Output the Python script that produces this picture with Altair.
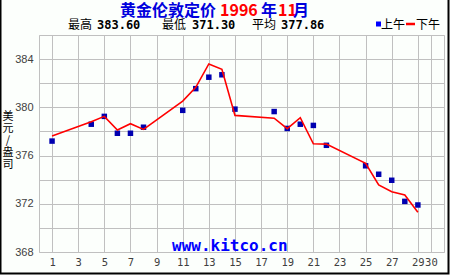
import altair as alt
import pandas as pd

days = [1, 4, 5, 6, 7, 8, 11, 12, 13, 14, 15, 18, 19, 20, 21, 22, 25, 26, 27, 28, 29]
am = [377.20, 378.60, 379.25, 377.85, 377.85, 378.35, 379.75, 381.55, 382.50, 382.70,
      379.85, 379.65, 378.25, 378.60, 378.50, 376.85, 375.15, 374.45, 373.95, 372.20, 371.90]
pm = [377.62, 378.80, 379.25, 378.12, 378.64, 378.17, 380.52, 381.66, 383.60, 383.15,
      379.33, 379.10, 378.23, 379.14, 376.98, 376.95, 375.35, 373.56, 373.00, 372.73, 371.30]
x_ticks = [1, 3, 5, 7, 9, 11, 13, 15, 17, 19, 21, 23, 25, 27, 29, 30]
y_grid = [368, 370, 372, 374, 376, 378, 380, 382, 384, 386]
y_title = ["美", "元", "/", "盎", "司"]

df = pd.DataFrame({"day": days, "am": am, "pm": pm})

GRID = "#C0C0C0"
LBL = "#404040"

xenc = alt.X("day:Q", scale=alt.Scale(domain=[0, 31], nice=False, zero=False),
             axis=alt.Axis(values=x_ticks, title=None, grid=True, ticks=False, domain=False,
                           labelFont="DejaVu Sans Mono", labelFontSize=10.5, labelColor=LBL,
                           labelPadding=5, labelOverlap=False, labelFlush=False,
                           gridColor=GRID, gridOpacity=1, gridWidth=1))

yaxis = alt.Axis(values=y_grid, grid=True, ticks=False, domain=False, title=None,
                 labelExpr="datum.value % 4 == 0 && datum.value < 386 ? datum.label : ''",
                 labelFont="Liberation Sans", labelFontSize=11, labelColor=LBL, labelPadding=6,
                 gridColor=GRID, gridOpacity=1, gridWidth=1)
yscale = alt.Scale(domain=[368, 386], nice=False, zero=False)

base = alt.Chart(df)
squares = base.mark_square(color="#0000B0", size=30, opacity=1).encode(
    x=xenc, y=alt.Y("am:Q", scale=yscale, axis=yaxis))
line = base.mark_line(color="#FF0000", strokeWidth=1.6).encode(
    x=xenc, y=alt.Y("pm:Q", scale=yscale, axis=yaxis))

one = alt.Data(values=[{}])

def txt(s, x, y, color="black", size=12, font="Noto Sans CJK SC", weight="normal",
        baseline="middle", align="left", lineHeight=None):
    kw = dict(text=s, align=align, baseline=baseline, color=color,
              fontSize=size, font=font, fontWeight=weight)
    if lineHeight is not None:
        kw["lineHeight"] = lineHeight
    return alt.Chart(one).mark_text(**kw).encode(x=alt.value(x), y=alt.value(y))

BLUE = "#0000DD"
RED = "#FF0000"
title_parts = [
    txt("黄金伦敦定价", 81, -24.5, BLUE, 16, weight="bold"),
    txt("1996", 181, -24.5, RED, 16, weight="bold"),
    txt("年", 222, -24.5, BLUE, 16, weight="bold"),
    txt("11", 239, -24.5, RED, 16, weight="bold"),
    txt("月", 254, -24.5, BLUE, 16, weight="bold"),
]
stats = [
    txt("最高", 29, -10),
    txt("383.60", 58, -10, font="DejaVu Sans Mono", weight="bold"),
    txt("最低", 123, -10),
    txt("371.30", 153, -10, font="DejaVu Sans Mono", weight="bold"),
    txt("平均", 213, -10),
    txt("377.86", 242, -10, font="DejaVu Sans Mono", weight="bold"),
]
legend = [
    alt.Chart(one).mark_square(color="#0000FF", size=25, opacity=1).encode(
        x=alt.value(339.5), y=alt.value(-11)),
    txt("上午", 342, -10),
    alt.Chart(one).mark_rule(color=RED, strokeWidth=2.5).encode(
        x=alt.value(367), x2=alt.value(376), y=alt.value(-11)),
    txt("下午", 377, -10),
]
ytitle = txt(y_title, -31, 76, size=11, align="center", baseline="top", lineHeight=12)
watermark = txt("www.kitco.cn", 133, 216, "#0000FF", 16, font="DejaVu Sans Mono",
                weight="bold", baseline="alphabetic")
border = alt.Chart(one).mark_rect(fill=None, stroke="black", strokeWidth=2).encode(
    x=alt.value(-38.5), x2=alt.value(409.5), y=alt.value(-37), y2=alt.value(238.5))

chart = alt.layer(squares, line, *title_parts, *stats, *legend, ytitle, watermark, border).properties(
    width=405, height=217,
    autosize=alt.AutoSizeParams(type="none"),
    padding={"left": 39, "top": 35, "right": 6, "bottom": 23},
    background="#FCFFFC",
).configure_view(stroke=GRID, strokeWidth=1)

chart.save("out.html", embed_options={"renderer": "svg", "actions": False})
